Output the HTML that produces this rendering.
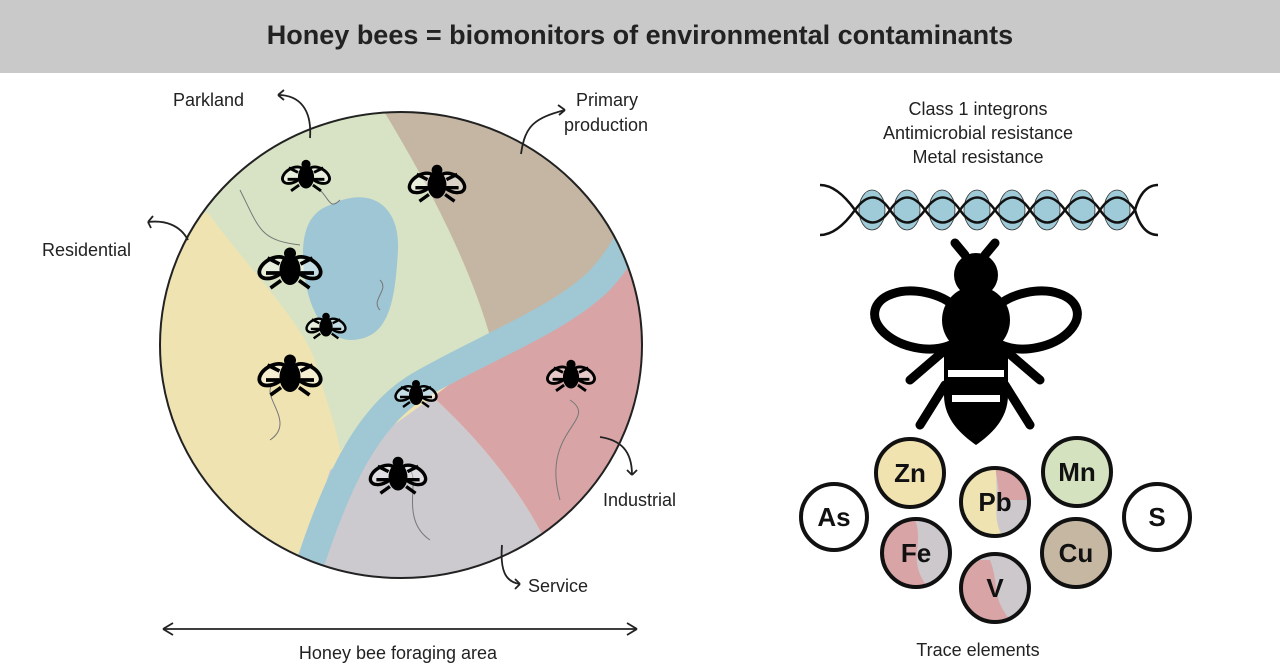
<!DOCTYPE html>
<html><head><meta charset="utf-8"><style>
body{margin:0;width:1280px;height:665px;background:#fff;overflow:hidden;font-family:"Liberation Sans",sans-serif}
</style></head><body>
<svg width="1280" height="665" viewBox="0 0 1280 665" xmlns="http://www.w3.org/2000/svg">
<defs>
<clipPath id="c"><ellipse cx="401" cy="345" rx="241" ry="233"/></clipPath>
<g id="bee">
<ellipse cx="-9" cy="-7" rx="10" ry="6" fill="#fff" fill-opacity="0.4" stroke="#000" stroke-width="2.5" transform="rotate(-30)"/>
<ellipse cx="9" cy="-7" rx="10" ry="6" fill="#fff" fill-opacity="0.4" stroke="#000" stroke-width="2.5" transform="rotate(30)"/>
<ellipse cx="0" cy="0" rx="7" ry="10" fill="#000"/>
<circle cx="0" cy="-11" r="4" fill="#000"/>
<path d="M-7,-4 L-15,-8 M-7,2 L-16,2 M-6,7 L-13,12 M7,-4 L15,-8 M7,2 L16,2 M6,7 L13,12" stroke="#000" stroke-width="2.5"/>
</g>
</defs>
<rect x="0" y="0" width="1280" height="73" fill="#c9c9c9"/>
<text x="640" y="44" text-anchor="middle" font-size="27" font-weight="bold" fill="#222">Honey bees = biomonitors of environmental contaminants</text>

<g clip-path="url(#c)">
<rect x="150" y="100" width="510" height="500" fill="#efe3b2"/>
<path d="M150,100 L150,213 L208,213 C250,270 300,320 315,360 C325,400 335,420 340,450 L420,380 L493,347 C470,260 420,170 377,100 Z" fill="#d7e3c4"/>
<path d="M377,100 C420,170 470,260 493,347 L560,300 L640,240 L660,100 Z" fill="#c4b6a3"/>
<path d="M660,240 L560,300 L433,397 C480,440 520,490 545,540 L660,540 Z" fill="#d8a4a6"/>
<path d="M433,397 C480,440 520,490 545,540 L560,600 L290,600 L330,470 Z" fill="#ccc9cf"/>
<path d="M300,595 C330,500 360,420 420,385 C480,350 560,320 600,280 C620,258 630,240 645,205" fill="none" stroke="#9fc8d4" stroke-width="28"/>
<path d="M330,205 C370,185 400,205 398,250 C395,300 390,340 350,340 C320,338 305,300 303,260 C302,230 310,212 330,205 Z" fill="#9fc6d4"/>
</g>
<ellipse cx="401" cy="345" rx="241" ry="233" fill="none" stroke="#222" stroke-width="2"/>
<g fill="none" stroke="#777" stroke-width="1">
<path d="M240,190 C260,230 260,240 300,245"/><path d="M320,190 C330,200 330,210 340,200"/>
<path d="M270,440 C300,420 250,390 280,380"/><path d="M560,500 C540,430 600,420 570,400"/>
<path d="M430,540 C400,520 420,480 410,470"/><path d="M380,310 C370,300 390,290 380,280"/>
</g>
<use href="#bee" transform="translate(306,177) scale(1.15)"/>
<use href="#bee" transform="translate(437,185) scale(1.35)"/>
<use href="#bee" transform="translate(290,270) scale(1.5)"/>
<use href="#bee" transform="translate(326,327) scale(0.95)"/>
<use href="#bee" transform="translate(290,377) scale(1.5)"/>
<use href="#bee" transform="translate(416,395) scale(1)"/>
<use href="#bee" transform="translate(571,377) scale(1.15)"/>
<use href="#bee" transform="translate(398,477) scale(1.35)"/>

<g fill="none" stroke="#222" stroke-width="1.8">
<path d="M310,138 C312,110 300,95 278,95"/><path d="M278,95 l6,-5 M278,95 l6,5"/>
<path d="M188,240 C180,225 165,220 148,222"/><path d="M148,222 l5,-6 M148,222 l3,6"/>
<path d="M521,154 C525,125 535,118 565,110"/><path d="M565,110 l-7,-5 M565,110 l-6,5"/>
<path d="M600,437 C620,440 632,450 632,475"/><path d="M632,475 l-5,-5 M632,475 l5,-5"/>
<path d="M502,545 C500,570 505,582 520,584"/><path d="M520,584 l-5,-5 M520,584 l-5,5"/>
<path d="M163,629 L637,629"/><path d="M163,629 l10,-6 M163,629 l10,6 M637,629 l-10,-6 M637,629 l-10,6"/>
</g>
<g font-size="18" fill="#222">
<text x="173" y="106">Parkland</text>
<text x="42" y="256">Residential</text>
<text x="576" y="106">Primary</text>
<text x="564" y="131">production</text>
<text x="603" y="506">Industrial</text>
<text x="528" y="592">Service</text>
<text x="398" y="659" text-anchor="middle">Honey bee foraging area</text>
<text x="978" y="115" text-anchor="middle">Class 1 integrons</text>
<text x="978" y="139" text-anchor="middle">Antimicrobial resistance</text>
<text x="978" y="163" text-anchor="middle">Metal resistance</text>
<text x="978" y="656" text-anchor="middle">Trace elements</text>
</g>

<g>
<g fill="#9fcbd8" stroke="#333" stroke-width="0.8">
<ellipse cx="872" cy="210" rx="13" ry="20"/><ellipse cx="907" cy="210" rx="13" ry="20"/><ellipse cx="942" cy="210" rx="13" ry="20"/>
<ellipse cx="977" cy="210" rx="13" ry="20"/><ellipse cx="1012" cy="210" rx="13" ry="20"/><ellipse cx="1047" cy="210" rx="13" ry="20"/>
<ellipse cx="1082" cy="210" rx="13" ry="20"/><ellipse cx="1117" cy="210" rx="13" ry="20"/>
</g>
<path d="M820,235 Q837,235 855,210 t35,0 t35,0 t35,0 t35,0 t35,0 t35,0 t35,0 t35,0 Q1142,235 1158,235" fill="none" stroke="#111" stroke-width="2.5"/>
<path d="M820,185 Q837,185 855,210 t35,0 t35,0 t35,0 t35,0 t35,0 t35,0 t35,0 t35,0 Q1142,185 1158,185" fill="none" stroke="#111" stroke-width="2.5"/>
</g>

<g>
<g stroke="#000" stroke-width="9" stroke-linecap="round" fill="none">
<path d="M965,255 L955,243 M985,255 L995,243"/>
<path d="M940,318 L905,340 M945,350 L910,380 M1010,318 L1045,340 M1005,350 L1040,380"/>
<path d="M945,385 L920,425 M1005,385 L1030,425"/>
</g>
<ellipse cx="920" cy="320" rx="46" ry="28" fill="#fff" stroke="#000" stroke-width="9" transform="rotate(12 920 320)"/>
<ellipse cx="1032" cy="320" rx="46" ry="28" fill="#fff" stroke="#000" stroke-width="9" transform="rotate(-12 1032 320)"/>
<circle cx="976" cy="275" r="22" fill="#000"/>
<ellipse cx="976" cy="320" rx="34" ry="34" fill="#000"/>
<path d="M944,350 C944,330 1008,330 1008,350 L1008,395 C1008,420 990,435 976,445 C962,435 944,420 944,395 Z" fill="#000"/>
<rect x="948" y="370" width="56" height="7" fill="#fff"/>
<rect x="952" y="395" width="48" height="7" fill="#fff"/>
</g>

<defs>
<clipPath id="cfe"><circle cx="916" cy="553" r="33"/></clipPath>
<clipPath id="cpb"><circle cx="995" cy="502" r="33"/></clipPath>
<clipPath id="cv"><circle cx="995" cy="588" r="33"/></clipPath>
</defs>
<g clip-path="url(#cfe)"><rect x="880" y="515" width="80" height="80" fill="#ccc8cc"/><path d="M880,520 L915,520 C925,545 905,560 930,590 L880,590 Z" fill="#d8a4a6"/></g>
<g clip-path="url(#cpb)"><rect x="960" y="465" width="80" height="80" fill="#ccc8cc"/><path d="M960,465 L995,465 L1000,500 L1040,500 L1040,465 Z" fill="#d8a4a6"/><path d="M960,465 L995,465 C1000,500 990,520 1005,540 L960,540 Z" fill="#efe3b2"/></g>
<g clip-path="url(#cv)"><rect x="960" y="550" width="80" height="80" fill="#ccc8cc"/><path d="M960,560 L990,560 C1000,585 990,600 1015,625 L960,625 Z" fill="#d8a4a6"/></g>
<g stroke="#111" stroke-width="4">
<circle cx="834" cy="517" r="33" fill="#fff"/>
<circle cx="910" cy="473" r="34" fill="#f0e3b0"/>
<circle cx="995" cy="502" r="34" fill="none"/>
<circle cx="1077" cy="472" r="34" fill="#d5e2c0"/>
<circle cx="1157" cy="517" r="33" fill="#fff"/>
<circle cx="916" cy="553" r="34" fill="none"/>
<circle cx="1076" cy="553" r="34" fill="#c6b7a2"/>
<circle cx="995" cy="588" r="34" fill="none"/>
</g>
<g font-size="26" font-weight="bold" fill="#111" text-anchor="middle">
<text x="834" y="526">As</text><text x="910" y="482">Zn</text><text x="995" y="511">Pb</text>
<text x="1077" y="481">Mn</text><text x="1157" y="526">S</text><text x="916" y="562">Fe</text>
<text x="1076" y="562">Cu</text><text x="995" y="597">V</text>
</g>
</svg>
</body></html>
